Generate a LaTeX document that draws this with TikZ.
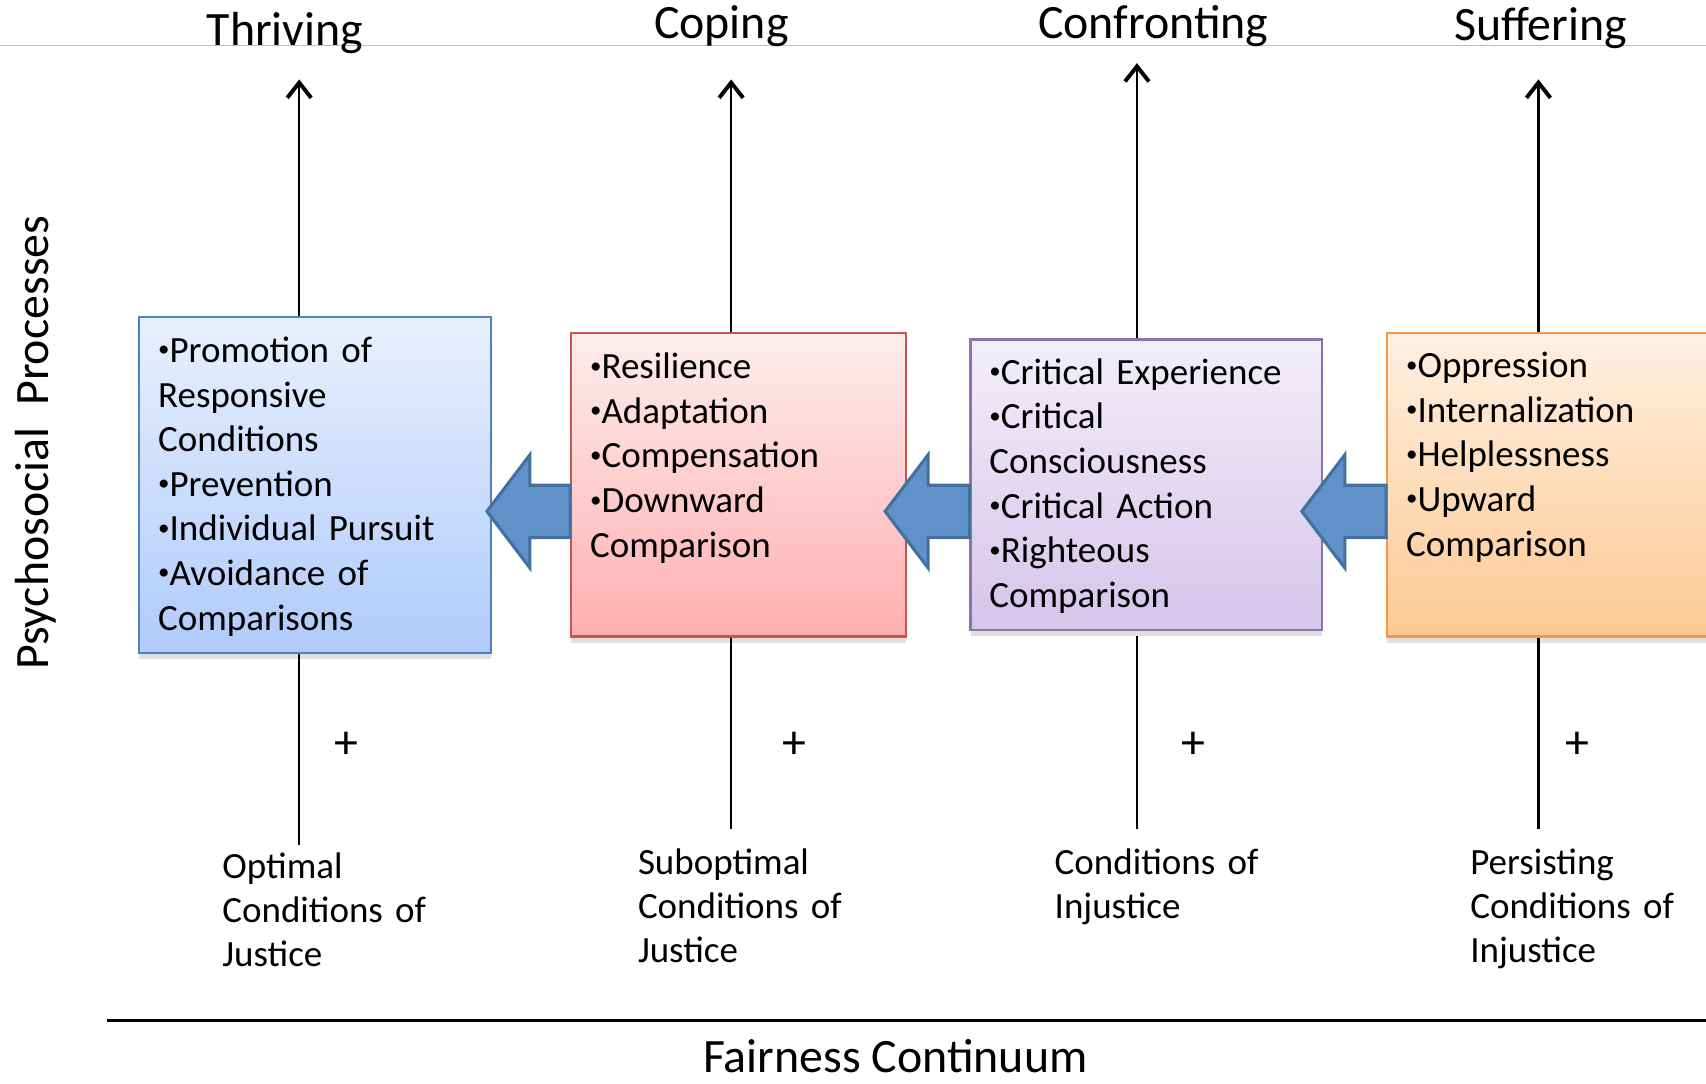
\documentclass[tikz,border=0pt]{standalone}
\usepackage{fontspec}
\usepackage{graphicx}
\setmainfont{Carlito}
\usetikzlibrary{arrows.meta,shadows,fit}

\definecolor{blueline}{RGB}{79,129,189}
\definecolor{bluetop}{RGB}{232,240,253}
\definecolor{bluebot}{RGB}{175,203,251}
\definecolor{redline}{RGB}{200,85,80}
\definecolor{redtop}{RGB}{253,237,237}
\definecolor{redbot}{RGB}{255,175,175}
\definecolor{purpline}{RGB}{140,115,175}
\definecolor{purptop}{RGB}{242,238,249}
\definecolor{purpbot}{RGB}{213,197,234}
\definecolor{orangeline}{RGB}{247,150,70}
\definecolor{orangetop}{RGB}{254,240,226}
\definecolor{orangebot}{RGB}{253,201,147}
\definecolor{arrowfill}{RGB}{96,146,201}
\definecolor{arrowline}{RGB}{65,113,156}
\definecolor{topline}{RGB}{190,190,190}

\newcommand{\dotmark}{\raisebox{0.15em}{\scalebox{0.62}{•}}}

\tikzset{
  stagebox/.style={draw, line width=1pt, inner sep=0pt,
    drop shadow={shadow xshift=0pt, shadow yshift=-3pt, opacity=0.25}},
  boxtext/.style={anchor=north west, inner sep=0pt, text width=165pt, align=left,
    font=\fontsize{17}{20.5}\selectfont, execute at begin node=\strut},
  condtext/.style={anchor=north west, inner sep=0pt, text width=110pt, align=left,
    font=\fontsize{17}{20.25}\selectfont, execute at begin node=\strut},
  stagetitle/.style={anchor=base, inner sep=0pt, font=\fontsize{22}{26}\selectfont},
  plussign/.style={inner sep=0pt, font=\fontsize{22}{24}\selectfont},
  uparrow/.style={line width=1pt, -{Straight Barb[length=7pt,width=11pt,line width=1.8pt]}},
  blockarrow/.style={fill=arrowfill, draw=arrowline, line width=1.4pt, line join=miter}
}

\begin{document}
\begin{tikzpicture}[x=0.5pt,y=-0.5pt]
\useasboundingbox (0,0) rectangle (1568,996);
\clip (0,0) rectangle (1568,996);
%
\draw[topline, line width=0.5pt](0,42)--(1568,42);
\node[stagetitle] (thriving) at (262,42) {Thriving};
\node[stagetitle] (coping) at (663,35) {Coping};
\node[stagetitle] (confronting) at (1060,35) {Confronting};
\node[stagetitle] (suffering) at (1416,37.5) {Suffering};
%
\node[rotate=90, anchor=base, inner sep=0pt, font=\fontsize{22}{26}\selectfont] (psych) at (45,407) {Psychosocial\ \ Processes};
%
\node[stagebox, draw=blueline, top color=bluetop, bottom color=bluebot, fit={(128,291) (451,600)}] (thrive) {};
\node[stagebox, draw=redline, top color=redtop, bottom color=redbot, fit={(525,306) (833,585)}] (cope) {};
\node[stagebox, draw=purpline, top color=purptop, bottom color=purpbot, fit={(892,312) (1215,579)}] (confront) {};
\node[stagebox, draw=orangeline, top color=orangetop, bottom color=orangebot, fit={(1275,306) (1600,585)}] (suffer) {};
%
\node[boxtext] (thrivetext) at ([shift={(18,14)}]thrive.north west) {\dotmark Promotion of\\Responsive\\Conditions\\\dotmark Prevention\\\dotmark Individual Pursuit\\\dotmark Avoidance of\\Comparisons};
\node[boxtext] (copetext) at ([shift={(18,14)}]cope.north west) {\dotmark Resilience\\\dotmark Adaptation\\\dotmark Compensation\\\dotmark Downward\\Comparison};
\node[boxtext] (confronttext) at ([shift={(18,13)}]confront.north west) {\dotmark Critical Experience\\\dotmark Critical\\Consciousness\\\dotmark Critical Action\\\dotmark Righteous\\Comparison};
\node[boxtext] (suffertext) at ([shift={(18,13)}]suffer.north west) {\dotmark Oppression\\\dotmark Internalization\\\dotmark Helplessness\\\dotmark Upward\\Comparison};
%
\coordinate (thriveup) at (275,73);
\coordinate (copeup) at (672,73);
\coordinate (confrontup) at (1045,58);
\coordinate (sufferup) at (1414,73);
\draw[uparrow](275,0 |- thrive.north)--(thriveup);
\draw[uparrow](672,0 |- cope.north)--(copeup);
\draw[uparrow](1045,0 |- confront.north)--(confrontup);
\draw[uparrow](1414,0 |- suffer.north)--(sufferup);
%
\coordinate (thrivedown) at (275,777);
\coordinate (copedown) at (672,762);
\coordinate (confrontdown) at (1045,762);
\coordinate (sufferdown) at (1414,762);
\draw[line width=1pt](275,0 |- thrive.south)--(thrivedown);
\draw[line width=1pt](672,0 |- cope.south)--(copedown);
\draw[line width=1pt](1045,585)--(confrontdown);
\draw[line width=1pt](1414,0 |- suffer.south)--(sufferdown);
%
\node[plussign] (plus1) at (318,685) {+};
\node[plussign] (plus2) at (730,685) {+};
\node[plussign] (plus3) at (1097,685) {+};
\node[plussign] (plus4) at (1450,685) {+};
%
\draw[blockarrow](cope.west |- 0,446)--++(-37,0)--++(0,-28)--++(-39.5,52)--++(39.5,52)--++(0,-28)--++(37,0)--cycle;
\draw[blockarrow](confront.west |- 0,446)--++(-38,0)--++(0,-28)--++(-39.5,52)--++(39.5,52)--++(0,-28)--++(38,0)--cycle;
\draw[blockarrow](suffer.west |- 0,446)--++(-38,0)--++(0,-28)--++(-39.5,52)--++(39.5,52)--++(0,-28)--++(38,0)--cycle;
%
\node[condtext] (optimal) at (204,779) {Optimal\\Conditions of\\Justice};
\node[condtext] (suboptimal) at (586,775) {Suboptimal\\Conditions of\\Justice};
\node[condtext] (injustice) at (969,775) {Conditions of\\Injustice};
\node[condtext] (persisting) at (1351,775) {Persisting\\Conditions of\\Injustice};
%
\draw[line width=1.5pt](98,938)--(1568,938);
\node[stagetitle] (fairness) at (823,986) {Fairness Continuum};
\end{tikzpicture}
\end{document}
